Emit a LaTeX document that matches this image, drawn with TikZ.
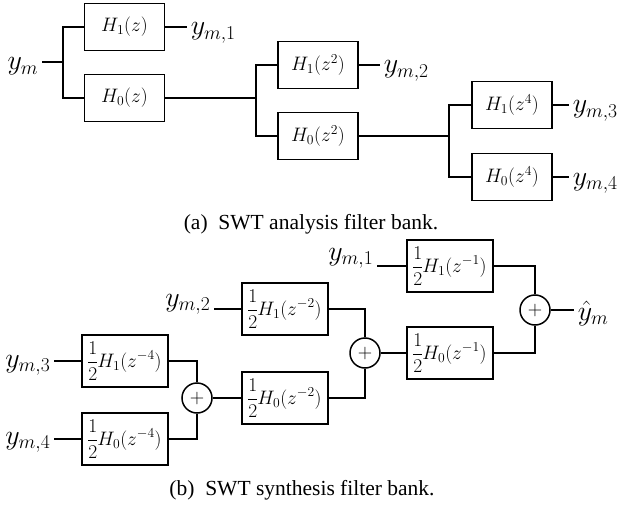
\RequirePackage{fix-cm}
\documentclass[tikz,border=0pt]{standalone}
\usepackage{fontspec}
\usepackage{amsmath}
\usepackage{tikz}
\usetikzlibrary{positioning}
\newfontfamily\capfont{Liberation Serif}
\nulldelimiterspace=0pt

\begin{document}
\begin{tikzpicture}[
    x=1pt, y=-1pt,
    line width=1.5pt,
    filt/.style={%
      draw,
      rectangle,
      minimum width=80pt,
      minimum height=47pt,
      inner sep=0pt,
      font=\fontsize{19.5}{22}\selectfont,
    },
    half/.style={%
      filt,
      minimum width=86pt,
      minimum height=52pt,
      font=\fontsize{19.5}{23}\selectfont,
    },
    sig/.style={%
      inner sep=3pt,
      font=\fontsize{28}{32}\selectfont,
    },
    adder/.style={%
      draw,
      circle,
      minimum size=30pt,
      inner sep=0pt,
      font=\fontsize{20}{24}\selectfont,
    },
    capt/.style={%
      font=\fontsize{21.5}{25}\selectfont\capfont,
    },
  ]
    \useasboundingbox (0,0) rectangle (621,508);

    % (a) analysis
    \node [sig, anchor=base east] (ym) at (42,70) {$y_m$};
    \coordinate (S1) at (63,62);
    \node [filt] (H1a) at (124.5,27) {$H_1(z)$};
    \node [filt] (H0a) at (124.5,98) {$H_0(z)$};
    \node [sig, anchor=base west] (ya1) at (187,35) {$y_{m,1}$};
    \coordinate (S2) at (256,98);
    \node [filt] (H1b) at (318,65) {$H_1(z^2)$};
    \node [filt] (H0b) at (318,136) {$H_0(z^2)$};
    \node [sig, anchor=base west] (ya2) at (380,73) {$y_{m,2}$};
    \coordinate (S3) at (449,136);
    \node [filt] (H1c) at (512,105) {$H_1(z^4)$};
    \node [filt] (H0c) at (512,177) {$H_0(z^4)$};
    \node [sig, anchor=base west] (ya3) at (569,113) {$y_{m,3}$};
    \node [sig, anchor=base west] (ya4) at (569,185) {$y_{m,4}$};

    \draw (ym.east |- S1) -- (S1);
    \draw (S1) |- (H1a);
    \draw (S1) |- (H0a);
    \draw (H1a) -- (H1a -| ya1.west);
    \draw (H0a) -- (S2);
    \draw (S2) |- (H1b);
    \draw (S2) |- (H0b);
    \draw (H1b) -- (H1b -| ya2.west);
    \draw (H0b) -- (S3);
    \draw (S3) |- (H1c);
    \draw (S3) |- (H0c);
    \draw (H1c) -- (H1c -| ya3.west);
    \draw (H0c) -- (H0c -| ya4.west);

    \node [capt] (capa) at (311,224) {(a)\ \ SWT analysis filter bank.};

    % (b) synthesis
    \node [half] (B1) at (450,266) {$\displaystyle\frac{1}{2}H_1(z^{-1})$};
    \node [half] (B2) at (450,353) {$\displaystyle\frac{1}{2}H_0(z^{-1})$};
    \node [adder] (A3) at (535,310) {$+$};
    \node [half] (B3) at (285,309) {$\displaystyle\frac{1}{2}H_1(z^{-2})$};
    \node [half] (B4) at (285,398) {$\displaystyle\frac{1}{2}H_0(z^{-2})$};
    \node [adder] (A2) at (365,353) {$+$};
    \node [half] (B5) at (125,361) {$\displaystyle\frac{1}{2}H_1(z^{-4})$};
    \node [half] (B6) at (125,439) {$\displaystyle\frac{1}{2}H_0(z^{-4})$};
    \node [adder] (A1) at (197,398) {$+$};

    \node [sig, anchor=base east] (y1) at (377,260) {$y_{m,1}$};
    \node [sig, anchor=base east] (y2) at (214,306) {$y_{m,2}$};
    \node [sig, anchor=base east] (y3) at (54,367) {$y_{m,3}$};
    \node [sig, anchor=base east] (y4) at (54,444) {$y_{m,4}$};
    \node [sig, anchor=base west] (yh) at (574,320) {$\hat{y}_m$};

    \draw (y1.east |- B1) -- (B1);
    \draw (y2.east |- B3) -- (B3);
    \draw (y3.east |- B5) -- (B5);
    \draw (y4.east |- B6) -- (B6);
    \draw (B5) -| (A1);
    \draw (B6) -| (A1);
    \draw (A1) -- (B4);
    \draw (B3) -| (A2);
    \draw (B4) -| (A2);
    \draw (A2) -- (B2);
    \draw (B1) -| (A3);
    \draw (B2) -| (A3);
    \draw (A3) -- (A3 -| yh.west);

    \node [capt] (capb) at (302,490) {(b)\ \ SWT synthesis filter bank.};
\end{tikzpicture}
\end{document}
